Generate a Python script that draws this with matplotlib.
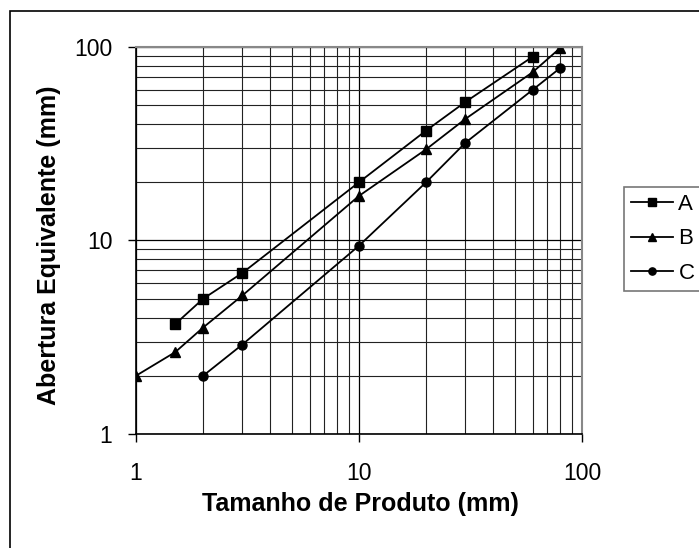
import matplotlib
matplotlib.use("Agg")
import matplotlib.pyplot as plt
from matplotlib.patches import Rectangle
from matplotlib.ticker import LogLocator, NullFormatter, FixedLocator

plt.rcParams['font.family'] = ['Liberation Sans', 'DejaVu Sans']

# Tamanho de Produto (mm) for each series
x_a = [1.5, 2, 3, 10, 20, 30, 60]
x_b = [1, 1.5, 2, 3, 10, 20, 30, 60, 80]
x_c = [2, 3, 10, 20, 30, 60, 80]

# Abertura Equivalente (mm)
y_a = [3.7, 5.0, 6.8, 20, 37, 52, 89]
y_b = [2.0, 2.65, 3.55, 5.2, 17, 29.6, 42.5, 74, 99]
y_c = [2.0, 2.9, 9.4, 20, 32, 60, 78]

series_labels = ['A', 'B', 'C']
x_ticks = [1, 10, 100]
y_ticks = [1, 10, 100]

fig = plt.figure(figsize=(6.99, 5.48), dpi=100)
ax = fig.add_axes([136 / 699, 1 - 434 / 548, 446 / 699, 387 / 548])

ax.plot(x_a, y_a, color='black', lw=1.3, marker='s', ms=6.5, label=series_labels[0])
ax.plot(x_b, y_b, color='black', lw=1.3, marker='^', ms=6.5, label=series_labels[1])
ax.plot(x_c, y_c, color='black', lw=1.3, marker='o', ms=6.5, label=series_labels[2])

ax.set_xscale('log')
ax.set_yscale('log')
ax.set_xlim(1, 100)
ax.set_ylim(1, 100)
ax.xaxis.set_major_locator(FixedLocator(x_ticks))
ax.yaxis.set_major_locator(FixedLocator(y_ticks))
ax.set_xticklabels([str(t) for t in x_ticks])
ax.set_yticklabels([str(t) for t in y_ticks])
ax.xaxis.set_minor_locator(LogLocator(base=10, subs=range(2, 10)))
ax.yaxis.set_minor_locator(LogLocator(base=10, subs=range(2, 10)))
ax.xaxis.set_minor_formatter(NullFormatter())
ax.yaxis.set_minor_formatter(NullFormatter())

ax.grid(which='major', color='black', lw=0.9)
ax.grid(which='minor', color='#222222', lw=0.8)
ax.set_axisbelow(True)

ax.tick_params(which='major', direction='out', length=6, width=1, labelsize=16.5, pad=11)
ax.tick_params(axis='x', which='major', pad=14)
ax.tick_params(which='minor', length=0)

for side in ['top', 'right']:
    ax.spines[side].set_color('#888888')
    ax.spines[side].set_linewidth(1.5)
for side in ['left', 'bottom']:
    ax.spines[side].set_color('black')
    ax.spines[side].set_linewidth(1.2)

ax.set_xlabel('Tamanho de Produto (mm)', fontsize=18, fontweight='bold', va='center')
ax.set_ylabel('Abertura Equivalente (mm)', fontsize=18, fontweight='bold', va='center')
ax.xaxis.set_label_coords((360 - 136) / 446, (434 - 504) / 387)
ax.yaxis.set_label_coords((49 - 136) / 446, (434 - 245) / 387)

leg = ax.legend(loc='upper left', bbox_to_anchor=(624 / 699, 1 - 187 / 548),
                bbox_transform=fig.transFigure, fontsize=16, frameon=True,
                fancybox=False, shadow=False, handlelength=1.9, handletextpad=0.25,
                borderpad=0.3, labelspacing=0.62, markerscale=0.8, borderaxespad=0)
leg.get_frame().set_edgecolor('#555555')
leg.get_frame().set_linewidth(1.2)

# outer chart border (left and top visible; right/bottom fall outside the image)
fig.patches.append(Rectangle((10 / 699, -0.1), 1.2, 1.1 - 11 / 548, transform=fig.transFigure,
                             fill=False, edgecolor='black', lw=1.2))

fig.savefig('out.png', dpi=100)
